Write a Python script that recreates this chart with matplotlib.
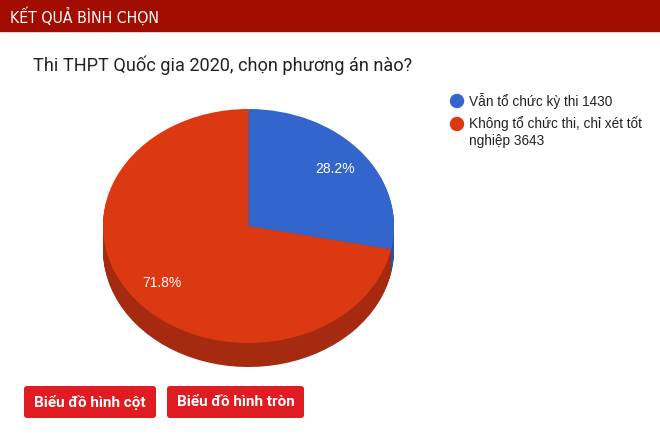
import numpy as np
import matplotlib.pyplot as plt
from matplotlib.patches import FancyBboxPatch, Circle

plt.rcParams['font.family'] = ['Liberation Sans', 'DejaVu Sans']

labels = ['Vẫn tổ chức kỳ thi', 'Không tổ chức thi, chỉ xét tốt\nnghiệp']
votes = [1430, 3643]
colors = ['#3366cc', '#dc3912']
side_colors = ['#2a52a6', '#a52a10']
header = 'KẾT QUẢ BÌNH CHỌN'
title = 'Thi THPT Quốc gia 2020, chọn phương án nào?'
buttons = ['Biểu đồ hình cột', 'Biểu đồ hình tròn']

W, H = 660, 441
fig = plt.figure(figsize=(W / 100, H / 100), dpi=100)
bg = fig.add_axes([0, 0, 1, 1])
bg.set_xlim(0, W)
bg.set_ylim(H, 0)
bg.axis('off')

# header bar
bg.add_patch(plt.Rectangle((0, 0), W, 31, color='#a30c00'))
bg.text(10, 16, header, color='white', fontsize=11.3, family=['DejaVu Sans'],
        fontstretch='condensed', va='center', ha='left')
bg.text(33, 65, title, color='#222222', fontsize=13.1, family=['Roboto', 'DejaVu Sans'],
        va='center', ha='left')

# pie axes (pixel box of the 3d pie)
left, right, top, bottom = 103, 394, 109, 367
ry = 117
thick = (bottom - top) / ry - 2
pax = fig.add_axes([left / W, 1 - bottom / H, (right - left) / W, (bottom - top) / H])
pax.axis('off')

nlayers = 24
for k in range(nlayers, 0, -1):
    dy = thick * k / nlayers
    pax.pie(votes, colors=side_colors, startangle=90, counterclock=False,
            center=(0, -dy), radius=1, wedgeprops=dict(linewidth=0))
pax.pie(votes, colors=colors, startangle=90, counterclock=False, center=(0, 0), radius=1,
        autopct='%.1f%%', pctdistance=0.77,
        wedgeprops=dict(linewidth=0),
        textprops=dict(color='white', fontsize=10))
pax.set_aspect('auto')
pax.set_xlim(-1, 1)
pax.set_ylim(-1 - thick, 1)

# legend
ly = [101, 124]
for i, (lab, v) in enumerate(zip(labels, votes)):
    bg.add_patch(Circle((457, ly[i]), 6.5, color=colors[i]))
    bg.text(469, ly[i] - 8, f'{lab} {v}', color='#222222', fontsize=9.8,
            va='top', ha='left', linespacing=1.3)

# buttons
bx = [(24, 156), (167, 304)]
for (x0, x1), txt in zip(bx, buttons):
    bg.add_patch(FancyBboxPatch((x0, 386), x1 - x0, 32, boxstyle='round,pad=0,rounding_size=3',
                                color='#e01b22', linewidth=0))
    bg.text((x0 + x1) / 2, 402, txt, color='white', fontsize=11, fontweight='bold',
            family=['Roboto', 'DejaVu Sans'], va='center', ha='center')

fig.savefig('out.png', dpi=100)
